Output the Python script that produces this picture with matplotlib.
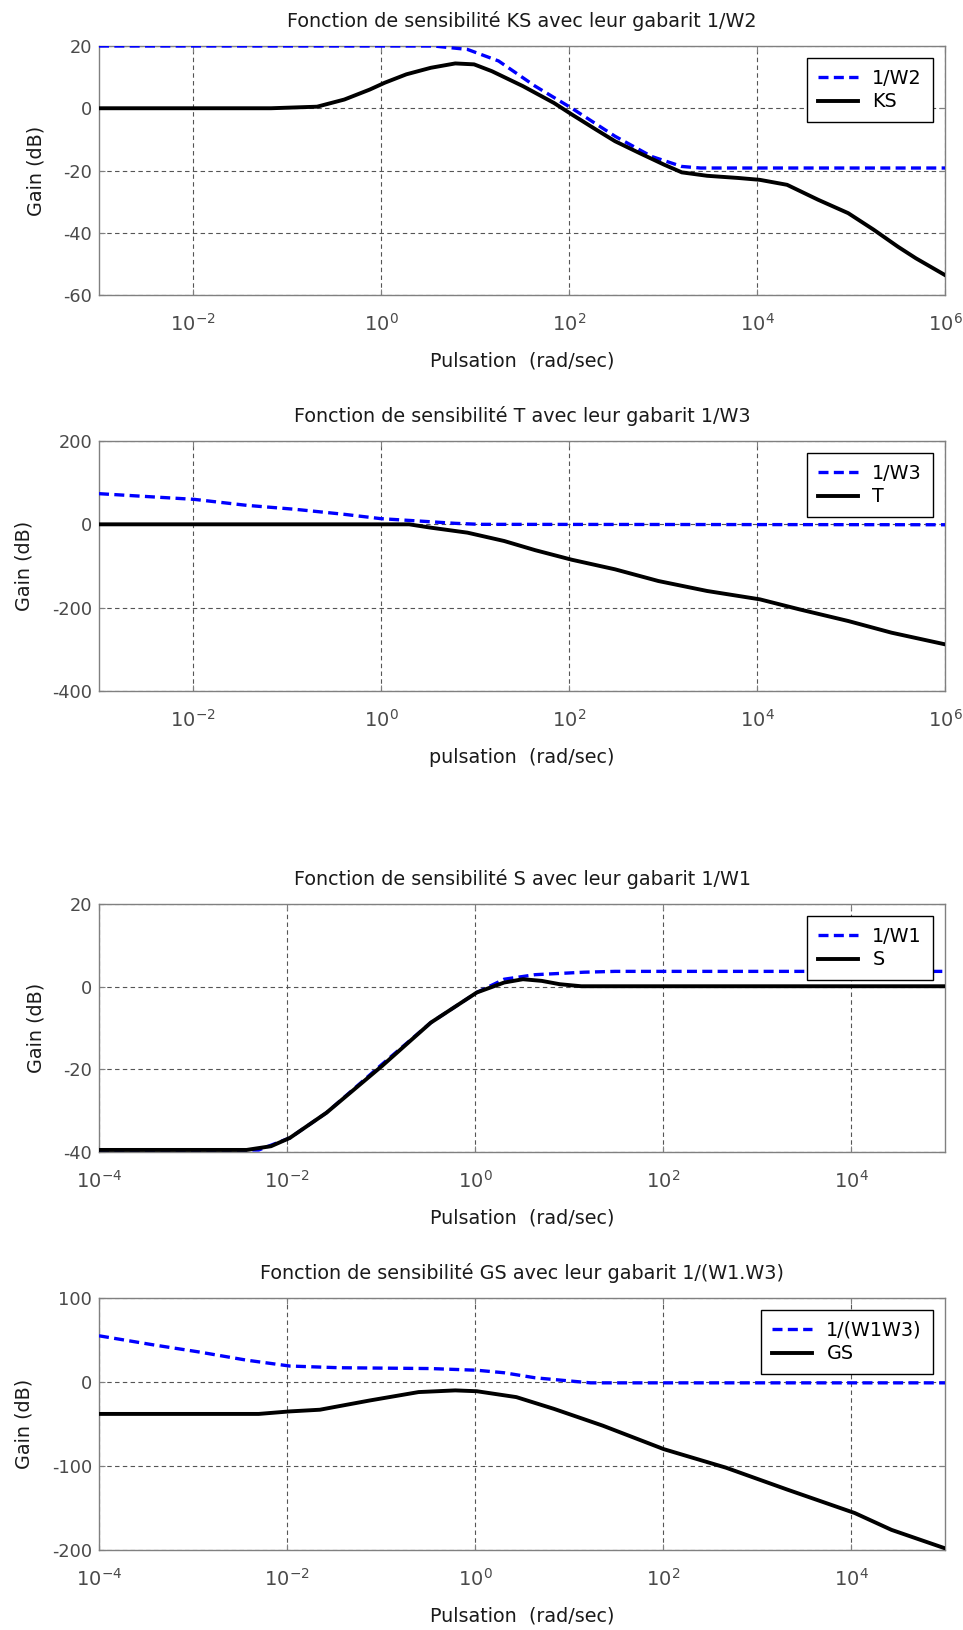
import numpy as np
import matplotlib
matplotlib.use("Agg")
import matplotlib.pyplot as plt

# --- data (x given as log10 of the pulsation) ---
# KS and its template 1/W2
w2_exp = [-3, 0.56, 0.92, 1.25, 1.64, 2.03, 2.49, 2.88, 3.2, 3.4, 6]
w2_db = [20, 20, 18.9, 15.2, 7.1, 0.0, -9, -15.5, -18.7, -19.2, -19.2]
ks_exp = [-3, -1.17, -0.68, -0.39, -0.12, 0.04, 0.27, 0.53, 0.79, 0.99, 1.18,
          1.51, 1.84, 2.03, 2.29, 2.49, 2.75, 3.01, 3.2, 3.47, 3.8, 4.03,
          4.32, 4.65, 4.97, 5.24, 5.5, 5.69, 6]
ks_db = [0, 0, 0.5, 2.8, 6, 8.2, 10.9, 13, 14.4, 14.1, 11.9, 7.1, 1.7, -2,
         -6.9, -10.6, -14.4, -18.1, -20.6, -21.7, -22.4, -23, -24.6, -29.4,
         -33.7, -39, -44.5, -48.2, -53.6]

# T and its template 1/W3
w3_exp = [-3, -2.41, -1.99, -1.43, -0.91, -0.39, 0, 0.4, 0.79, 1.05, 6]
w3_db = [73.6, 65.6, 60, 45.6, 36, 24, 13.6, 8, 2.4, 0, -1]
t_exp = [-3, 0.3, 0.53, 0.92, 1.31, 1.64, 2.03, 2.49, 2.95, 3.47, 4.03,
         4.45, 4.97, 5.43, 6]
t_db = [0, 0, -8, -20, -40, -62, -85, -108, -136, -160, -180, -204, -232,
        -260, -288]

# S and its template 1/W1
w1_exp = [-4, -2.3, -1.97, -1.58, -0.99, -0.47, 0.02, 0.31, 0.64, 1.16, 1.49, 5]
w1_db = [-39.5, -39.5, -36.6, -30.5, -18.8, -8.7, -1.4, 1.8, 2.9, 3.5, 3.7, 3.7]
s_exp = [-4, -2.43, -2.17, -1.97, -1.58, -0.99, -0.47, 0.02, 0.31, 0.51,
         0.71, 0.9, 1.13, 5]
s_db = [-39.5, -39.5, -38.6, -36.6, -30.5, -19.2, -8.7, -1.4, 1, 1.8, 1.4,
        0.6, 0.1, 0.1]

# GS and its template 1/(W1.W3)
w13_exp = [-4, -3.41, -2.95, -2.43, -1.97, -1.45, -0.47, 0.02, 0.31, 0.64,
           1.03, 1.23, 5]
w13_db = [55, 44, 36, 26, 19, 17, 16, 14, 11, 5, 1, -1, -1]
gs_exp = [-4, -2.3, -1.97, -1.65, -1.12, -0.6, -0.21, 0.02, 0.44, 0.84,
          1.36, 2.01, 2.67, 3.32, 4.04, 4.43, 5]
gs_db = [-38, -38, -35, -33, -22, -12, -10, -11, -18, -32, -52, -80, -102,
         -128, -156, -176, -198]

panels = [
    dict(title="Fonction de sensibilité KS avec leur gabarit 1/W2",
         xlabel="Pulsation  (rad/sec)",
         tmpl=(w2_exp, w2_db, "1/W2"), func=(ks_exp, ks_db, "KS"),
         xlim=(-3, 6), xt=[-2, 0, 2, 4, 6], ylim=(-60, 20), yt=[-60, -40, -20, 0, 20],
         box=(46, 295)),
    dict(title="Fonction de sensibilité T avec leur gabarit 1/W3",
         xlabel="pulsation  (rad/sec)",
         tmpl=(w3_exp, w3_db, "1/W3"), func=(t_exp, t_db, "T"),
         xlim=(-3, 6), xt=[-2, 0, 2, 4, 6], ylim=(-400, 200), yt=[-400, -200, 0, 200],
         box=(441, 691)),
    dict(title="Fonction de sensibilité S avec leur gabarit 1/W1",
         xlabel="Pulsation  (rad/sec)",
         tmpl=(w1_exp, w1_db, "1/W1"), func=(s_exp, s_db, "S"),
         xlim=(-4, 5), xt=[-4, -2, 0, 2, 4], ylim=(-40, 20), yt=[-40, -20, 0, 20],
         box=(904, 1152)),
    dict(title="Fonction de sensibilité GS avec leur gabarit 1/(W1.W3)",
         xlabel="Pulsation  (rad/sec)",
         tmpl=(w13_exp, w13_db, "1/(W1W3)"), func=(gs_exp, gs_db, "GS"),
         xlim=(-4, 5), xt=[-4, -2, 0, 2, 4], ylim=(-200, 100), yt=[-200, -100, 0, 100],
         box=(1298, 1550)),
]

W, H = 963, 1630
FS = 13.8
plt.rcParams["font.family"] = ["DejaVu Sans"]
plt.rcParams["mathtext.fontset"] = "dejavusans"
plt.rcParams["axes.unicode_minus"] = False

fig = plt.figure(figsize=(W / 100, H / 100), dpi=100)
left, right = 99, 945

for p in panels:
    top, bot = p["box"]
    ax = fig.add_axes([left / W, 1 - bot / H, (right - left) / W, (bot - top) / H])
    ex, db, lab = p["tmpl"]
    ax.plot(np.power(10.0, ex), db, color="#0000ff", lw=2.4,
            dashes=(3.0, 1.6), label=lab, zorder=3)
    ex, db, lab = p["func"]
    ax.plot(np.power(10.0, ex), db, color="black", lw=2.8, label=lab, zorder=4)

    ax.set_xscale("log")
    ax.set_xlim(10.0 ** p["xlim"][0], 10.0 ** p["xlim"][1])
    ax.set_ylim(*p["ylim"])
    ax.set_xticks([10.0 ** e for e in p["xt"]])
    ax.xaxis.set_minor_locator(matplotlib.ticker.NullLocator())
    ax.set_yticks(p["yt"])

    ax.grid(True, color="#555555", lw=0.8, linestyle=(0, (4, 3)))
    for s in ax.spines.values():
        s.set_color("#808080")
        s.set_linewidth(1.0)
    ax.tick_params(direction="in", top=True, right=True, length=4,
                   color="#808080", labelcolor="#4a4a4a")
    ax.tick_params(axis="x", pad=13, labelsize=14)
    ax.tick_params(axis="y", pad=5, labelsize=FS - 1)

    ax.set_title(p["title"], fontsize=FS, color="#1a1a1a", pad=14)
    ax.set_xlabel(p["xlabel"], fontsize=FS, color="#1a1a1a", labelpad=12)
    ax.set_ylabel("Gain (dB)", fontsize=FS, color="#1a1a1a", labelpad=13)

    leg = ax.legend(loc="upper right", fontsize=FS, fancybox=False,
                    framealpha=1, edgecolor="black", handlelength=2.1,
                    handletextpad=0.75, borderpad=0.55, labelspacing=0.22,
                    borderaxespad=0.65)
    leg.get_frame().set_linewidth(1.0)

fig.savefig("out.png", dpi=100)
